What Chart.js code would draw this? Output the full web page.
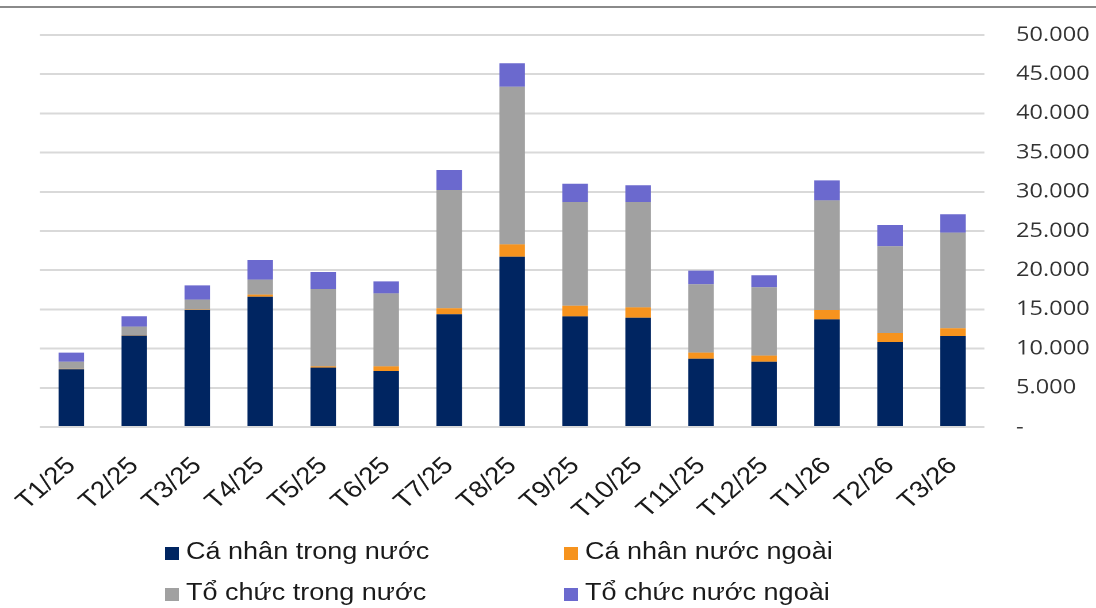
<!DOCTYPE html>
<html>
<head>
<meta charset="utf-8">
<script src="https://cdn.jsdelivr.net/npm/chart.js@4.4.1/dist/chart.umd.min.js"></script>
<style>
  html, body { margin: 0; padding: 0; background: #fff; }
  #wrap { position: relative; width: 1096px; height: 608px; overflow: hidden; background: #fff; }
  #c { position: absolute; left: 0; top: 0; }
  .lg { position: absolute; font-family: "Liberation Sans", Arial, sans-serif; font-size: 23.5px;
        line-height: 28px; color: #1a1a1a; white-space: nowrap; transform-origin: 0 0; }
  .sw { position: absolute; width: 14px; height: 13px; }
</style>
</head>
<body>
<div id="wrap">
  <canvas id="c" width="953" height="608" style="width:1096px;height:608px"></canvas>
</div>
<script>
// ---- data ----
const categories = ['T1/25','T2/25','T3/25','T4/25','T5/25','T6/25','T7/25','T8/25','T9/25','T10/25','T11/25','T12/25','T1/26','T2/26','T3/26'];
const seriesNames = ['Cá nhân trong nước', 'Cá nhân nước ngoài', 'Tổ chức trong nước', 'Tổ chức nước ngoài'];
const caNhanTrongNuoc = [7360, 11650, 14920, 16620, 7570, 7140, 14380, 21720, 14110, 13940, 8710, 8330, 13730, 10840, 11610];
const caNhanNuocNgoai = [60, 50, 50, 260, 170, 600, 760, 1580, 1360, 1320, 770, 770, 1190, 1150, 980];
const toChucTrongNuoc = [910, 1100, 1270, 1910, 9860, 9310, 15090, 20100, 13230, 13440, 8720, 8720, 13980, 11060, 12200];
const toChucNuocNgoai = [1150, 1320, 1830, 2510, 2170, 1530, 2550, 3000, 2330, 2130, 1740, 1530, 2550, 2720, 2340];
const yTickLabels = ['-', '5.000', '10.000', '15.000', '20.000', '25.000', '30.000', '35.000', '40.000', '45.000', '50.000'];
const colors = ['#002561', '#f6931e', '#a1a1a1', '#6b69ce'];

// ---- layout (logical canvas units; canvas is stretched horizontally) ----
const W = 953, VW = 1096, S = VW / W;
const plotLeft = 39.8 / S, plotRight = 984.5 / S, plotTop = 35, plotBottom = 427;

const topLine = {
  id: 'topLine',
  beforeDraw(chart) {
    const ctx = chart.ctx;
    ctx.save();
    ctx.fillStyle = '#8a8a8a';
    ctx.fillRect(0, 6, chart.width, 2);
    ctx.restore();
  }
};

const seriesData = [caNhanTrongNuoc, caNhanNuocNgoai, toChucTrongNuoc, toChucNuocNgoai];

const chart = new Chart(document.getElementById('c'), {
  type: 'bar',
  data: {
    labels: categories,
    datasets: seriesNames.map((name, i) => ({
      label: name,
      data: seriesData[i],
      backgroundColor: colors[i],
      borderWidth: 0,
      barPercentage: 0.405,
      categoryPercentage: 1.0
    }))
  },
  options: {
    responsive: false,
    devicePixelRatio: 2,
    animation: false,
    layout: { padding: { left: plotLeft, top: plotTop, right: 0, bottom: 0 } },
    plugins: { legend: { display: false }, tooltip: { enabled: false } },
    scales: {
      x: {
        stacked: true,
        grid: { display: false },
        border: { display: false },
        ticks: {
          minRotation: 45, maxRotation: 45, autoSkip: false, padding: 17,
          color: '#1a1a1a', font: { family: '"Liberation Sans", Arial, sans-serif', size: 24 }
        },
        afterFit(scale) { scale.height = 608 - plotBottom; scale.paddingLeft = 0; scale.paddingRight = 0; }
      },
      y: {
        stacked: true,
        position: 'right',
        min: 0, max: 50000,
        grid: { color: '#d9d9d9', lineWidth: 2, drawTicks: false },
        border: { display: false },
        ticks: {
          stepSize: 5000, padding: (1016 / S) - plotRight, align: 'center',
          color: '#333', font: { family: '"Open Sans", "Liberation Sans", sans-serif', size: 20.5 },
          callback: (v, idx) => yTickLabels[idx]
        },
        afterFit(scale) { scale.width = W - plotRight; scale.paddingTop = 0; scale.paddingBottom = 0; }
      }
    }
  },
  plugins: [topLine]
});

// ---- legend (HTML, same horizontal stretch) ----
const wrap = document.getElementById('wrap');
const legendPos = [
  { sx: 165, tx: 186, row: 0 },
  { sx: 564, tx: 585, row: 0 },
  { sx: 165, tx: 186, row: 1 },
  { sx: 564, tx: 585, row: 1 }
];
const rowSquareTop = [547, 588];
const rowTextTop = [537, 578];
chart.data.datasets.forEach((ds, i) => {
  const p = legendPos[i];
  const sw = document.createElement('div');
  sw.className = 'sw';
  sw.style.left = p.sx + 'px';
  sw.style.top = rowSquareTop[p.row] + 'px';
  sw.style.background = ds.backgroundColor;
  wrap.appendChild(sw);
  const t = document.createElement('div');
  t.className = 'lg';
  t.textContent = ds.label;
  t.style.left = p.tx + 'px';
  t.style.top = rowTextTop[p.row] + 'px';
  t.style.transform = 'scaleX(' + S + ')';
  wrap.appendChild(t);
});
</script>
</body>
</html>
